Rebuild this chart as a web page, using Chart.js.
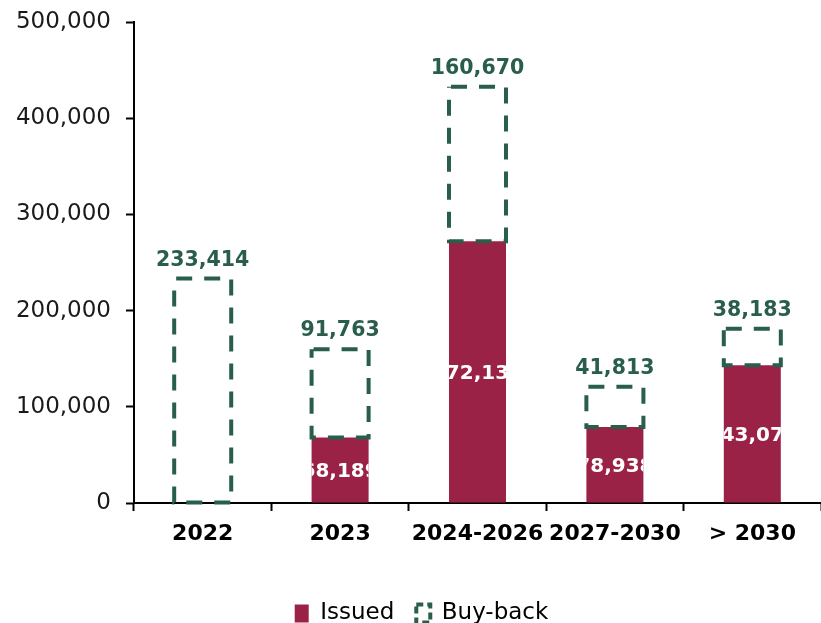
<!DOCTYPE html>
<html>
<head>
<meta charset="utf-8">
<script src="https://cdn.jsdelivr.net/npm/chart.js@4.4.1/dist/chart.umd.min.js"></script>
<style>
  html, body { margin: 0; padding: 0; background: #fff; }
  #wrap { width: 821px; height: 623px; }
</style>
</head>
<body>
<div id="wrap"><canvas id="c" width="821" height="623"></canvas></div>
<script>
// Maturity buckets and amounts
const categories = ['2022', '2023', '2024-2026', '2027-2030', '> 2030'];
const issued = [0, 68189, 272139, 78938, 143079];
const buyBack = [233414, 91763, 160670, 41813, 38183];
const yTicks = [0, 100000, 200000, 300000, 400000, 500000];

const RED = '#9B2247';
const GREEN = '#285E4A';
const FONT = "'DejaVu Sans', sans-serif";

const fmt = v => v.toLocaleString('en-US');

// Draws the dashed outline of the buy-back bars and the value labels
const barDecor = {
  id: 'barDecor',
  afterLayout(chart) {
    // nudge the legend a little to the right of the canvas centre
    if (chart.legend) {
      chart.legend.left += 9;
      chart.legend.right += 9;
    }
  },
  afterDatasetsDraw(chart) {
    const ctx = chart.ctx;
    const issuedMeta = chart.getDatasetMeta(0);
    const buyMeta = chart.getDatasetMeta(1);

    // issued values, white, clipped to their bar
    issuedMeta.data.forEach((bar, i) => {
      const v = issued[i];
      if (!v) return;
      const { x, y, base, width } = bar.getProps(['x', 'y', 'base', 'width'], true);
      ctx.save();
      ctx.beginPath();
      ctx.rect(x - width / 2, y, width, base - y);
      ctx.clip();
      ctx.fillStyle = '#fff';
      ctx.font = "bold 20px " + FONT;
      ctx.textAlign = 'center';
      ctx.textBaseline = 'middle';
      ctx.fillText(fmt(v), x, (y + base) / 2 + 2);
      ctx.restore();
    });

    // buy-back: dashed box plus label above it
    buyMeta.data.forEach((bar, i) => {
      const { x, y, base, width } = bar.getProps(['x', 'y', 'base', 'width'], true);
      ctx.save();
      ctx.strokeStyle = GREEN;
      ctx.lineWidth = 4;
      ctx.setLineDash([16, 12]);
      ctx.lineDashOffset = -2;
      ctx.strokeRect(x - width / 2, y, width, base - y);
      ctx.setLineDash([]);
      ctx.fillStyle = GREEN;
      ctx.font = "bold 20.5px " + FONT;
      ctx.textAlign = 'center';
      ctx.textBaseline = 'middle';
      ctx.fillText(fmt(buyBack[i]), x, y - 18);
      ctx.restore();
    });
  }
};

new Chart(document.getElementById('c'), {
  type: 'bar',
  data: {
    labels: categories,
    datasets: [
      {
        label: 'Issued',
        data: issued,
        backgroundColor: RED,
        borderWidth: 0,
        stack: 's'
      },
      {
        label: 'Buy-back',
        data: buyBack,
        backgroundColor: 'rgba(0,0,0,0)',
        borderWidth: 0,
        stack: 's'
      }
    ]
  },
  options: {
    responsive: false,
    animation: false,
    devicePixelRatio: 1,
    layout: { padding: { top: 22, right: -4, bottom: -12, left: 0 } },
    datasets: {
      bar: { barPercentage: 0.415, categoryPercentage: 1 }
    },
    scales: {
      x: {
        stacked: true,
        grid: {
          offset: true,
          drawOnChartArea: false,
          drawTicks: true,
          tickLength: 8,
          tickWidth: 2,
          tickColor: '#000'
        },
        border: { display: true, color: '#000', width: 2 },
        ticks: {
          color: '#000',
          padding: 10,
          font: { family: FONT, size: 22, weight: 'bold' },
          maxRotation: 0,
          autoSkip: false
        },
        afterFit(scale) { scale.height = 77; }
      },
      y: {
        stacked: true,
        min: 0,
        max: 500000,
        afterBuildTicks(scale) { scale.ticks = yTicks.map(v => ({ value: v })); },
        grid: {
          drawOnChartArea: false,
          drawTicks: true,
          tickLength: 8,
          tickWidth: 2,
          tickColor: '#000'
        },
        border: { display: true, color: '#000', width: 2 },
        ticks: {
          color: '#1a1a1a',
          padding: 15,
          font: { family: FONT, size: 23 },
          callback: v => fmt(v)
        },
        afterFit(scale) {
          scale.width = 134;
          scale.paddingTop = 0;
          scale.paddingBottom = 0;
        }
      }
    },
    plugins: {
      tooltip: { enabled: false },
      legend: {
        position: 'bottom',
        labels: {
          color: '#1a1a1a',
          font: { family: FONT, size: 23 },
          boxWidth: 14,
          boxHeight: 18,
          padding: 22,
          generateLabels() {
            return [
              { text: 'Issued', fillStyle: RED, strokeStyle: RED, lineWidth: 0, datasetIndex: 0 },
              { text: 'Buy-back', fillStyle: 'rgba(0,0,0,0)', strokeStyle: GREEN, lineWidth: 4, lineDash: [7, 4], datasetIndex: 1 }
            ];
          }
        }
      }
    }
  },
  plugins: [barDecor]
});
</script>
</body>
</html>
